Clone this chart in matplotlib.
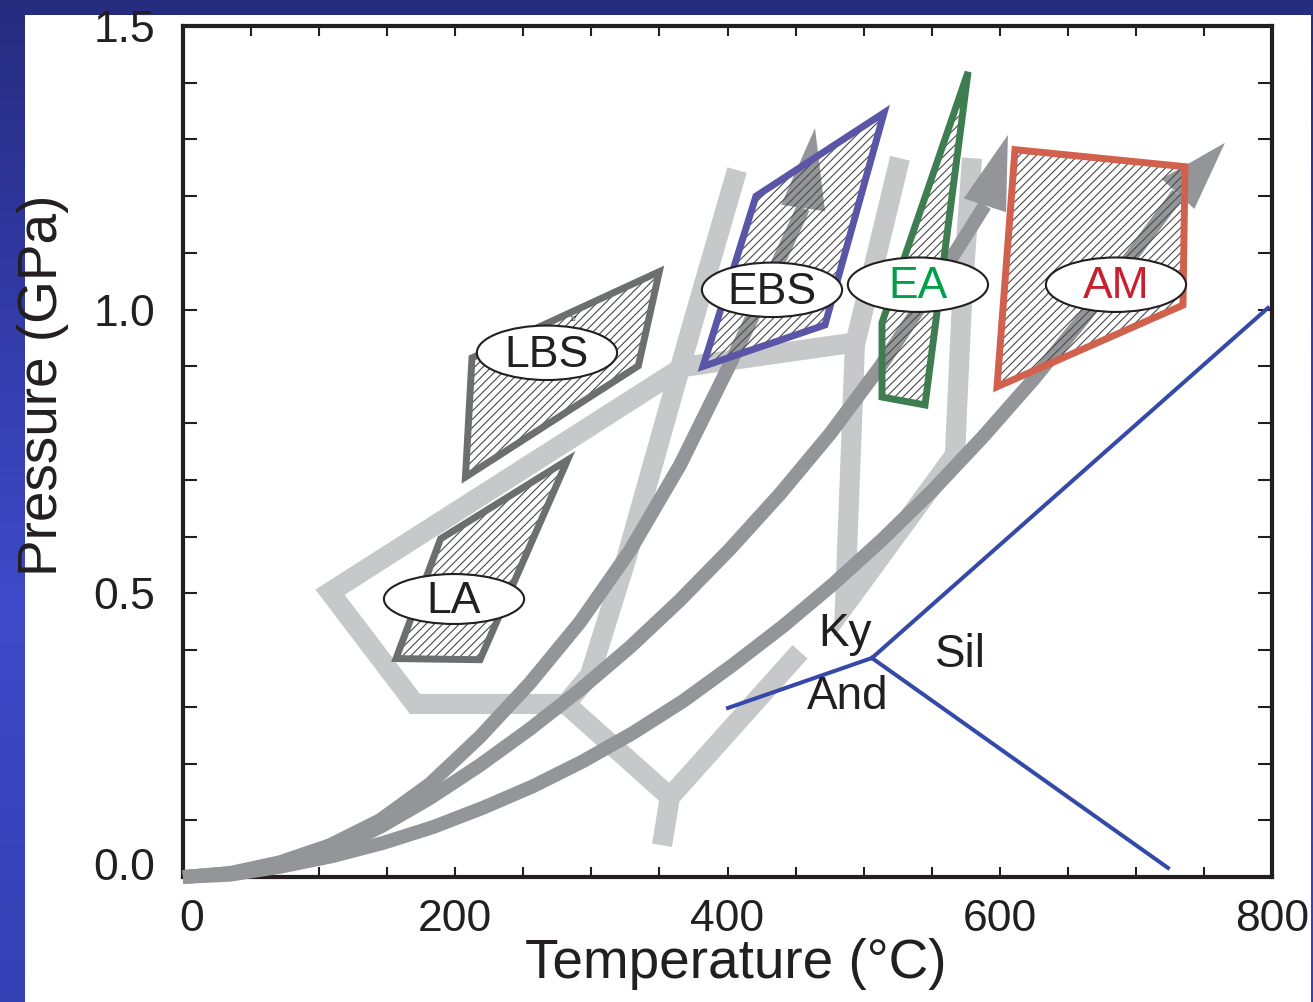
import numpy as np
import matplotlib.pyplot as plt
from matplotlib.patches import Polygon, Ellipse, Rectangle
from matplotlib.colors import LinearSegmentedColormap
from matplotlib.transforms import ScaledTranslation

plt.rcParams['font.family'] = ['Liberation Sans', 'DejaVu Sans']
plt.rcParams['hatch.linewidth'] = 0.8

# dark gray prograde P-T paths (temperature degC, pressure GPa) + arrow tips
curve1_t = [0, 34.5, 71.2, 107.9, 144.7, 181.4, 218.1, 254.9, 291.6, 328.3, 365.1, 401.8, 431.2, 451.0, 455.5]
curve1_p = [0, 0.007, 0.026, 0.056, 0.100, 0.164, 0.247, 0.342, 0.449, 0.575, 0.726, 0.904, 1.052, 1.155, 1.179]
curve2_t = [0, 34.5, 71.2, 107.9, 144.7, 181.4, 218.1, 254.9, 291.6, 328.3, 365.1, 401.8, 438.5,
            475.3, 512.0, 548.7, 574.4, 589.1]
curve2_p = [0, 0.004, 0.018, 0.046, 0.088, 0.139, 0.197, 0.261, 0.330, 0.405, 0.488, 0.578, 0.675,
            0.781, 0.899, 1.031, 1.128, 1.184]
curve3_t = [0, 36.7, 73.5, 110.2, 146.9, 183.7, 220.4, 257.1, 293.8, 330.6, 367.3, 404.0, 440.8,
            477.5, 514.2, 550.9, 587.7, 624.4, 661.1, 697.9, 730.9]
curve3_p = [0, 0.007, 0.019, 0.037, 0.060, 0.088, 0.122, 0.160, 0.204, 0.254, 0.310, 0.374, 0.442,
            0.516, 0.596, 0.682, 0.776, 0.876, 0.984, 1.098, 1.204]
tips_t = [464.3, 606.0, 765.4]
tips_p = [1.320, 1.308, 1.294]

# light gray exhumation paths
pathA_t = [407.0, 372.4, 325.4, 299.0, 281.3, 170.4, 108.0, 367.3, 490.0]
pathA_p = [1.246, 0.959, 0.559, 0.356, 0.305, 0.305, 0.502, 0.899, 0.941]
pathB_t = [526.7, 493.6, 486.3, 567.1, 572.3, 579.6]
pathB_p = [1.267, 0.938, 0.479, 0.744, 1.017, 1.267]
pathC_t = [281.3, 357.7, 351.9]
pathC_p = [0.305, 0.141, 0.056]
pathD_t = [357.7, 453.3]
pathD_p = [0.141, 0.397]

# metamorphic facies boxes
box_names = ['LA', 'LBS', 'EBS', 'EA', 'AM']
box_t = [[189.2, 282.5, 218.2, 156.5],
         [212.3, 349.9, 334.5, 207.5],
         [420.9, 515.0, 471.6, 382.0],
         [576.7, 545.1, 513.5, 513.5],
         [611.2, 736.1, 734.6, 598.0]]
box_p = [[0.596, 0.735, 0.383, 0.385],
         [0.915, 1.067, 0.901, 0.705],
         [1.200, 1.347, 0.973, 0.900],
         [1.419, 0.832, 0.846, 0.977],
         [1.282, 1.252, 1.008, 0.864]]
label_t = [199.1, 267.4, 432.7, 539.9, 685.4]
label_p = [0.490, 0.924, 1.035, 1.044, 1.044]

# Al2SiO5 phase diagram
ky_and_t = [400.4, 506.1]
ky_and_p = [0.298, 0.386]
ky_sil_t = [506.1, 797.0]
ky_sil_p = [0.386, 1.003]
and_sil_t = [506.1, 723.6]
and_sil_p = [0.386, 0.016]
mineral_names = ['Ky', 'And', 'Sil']
mineral_t = [486.3, 488.5, 570.8]
mineral_p = [0.428, 0.317, 0.391]

box_edge = ['#6d6e70', '#6d6e70', '#5a55a6', '#3d7d4f', '#d1604c']
label_col = ['#231f20', '#231f20', '#231f20', '#00a04b', '#c8202f']

W, H = 1313, 1002
fig = plt.figure(figsize=(W / 100, H / 100), dpi=100)

# blue slide background
bg = fig.add_axes([0, 0, 1, 1], zorder=-10)
bg.axis('off')
cmap = LinearSegmentedColormap.from_list(
    'slide', [(0, '#3440b4'), (0.4, '#3e4ac9'), (0.75, '#3038a0'), (1, '#262c7e')])
grad = np.linspace(0, 1, 256).reshape(-1, 1)
bg.imshow(grad, cmap=cmap, aspect='auto', extent=[0, 1, 0, 1], origin='lower')
bg.add_patch(Rectangle((25 / W, 0), (1311 - 25) / W, 987 / H, transform=bg.transAxes,
                       facecolor='white', edgecolor='none'))
bg.set_xlim(0, 1)
bg.set_ylim(0, 1)

ax = fig.add_axes([183 / W, 125 / H, 1089 / W, 851 / H])
ax.set_xlim(0, 800)
ax.set_ylim(0, 1.5)

light = '#c7c8ca'
dark = '#939598'
for t, p in [(pathA_t, pathA_p), (pathB_t, pathB_p), (pathC_t, pathC_p), (pathD_t, pathD_p)]:
    ax.plot(t, p, color=light, lw=14.5, solid_joinstyle='miter', solid_capstyle='butt', zorder=1)

curves = [(curve1_t, curve1_p), (curve2_t, curve2_p), (curve3_t, curve3_p)]
for (t, p), tt, tp in zip(curves, tips_t, tips_p):
    ax.plot(t, p, color=dark, lw=10, solid_capstyle='butt', solid_joinstyle='round',
            zorder=3, clip_on=False)
    a = ax.transData.transform((t[-1], p[-1]))
    b = ax.transData.transform((tt, tp))
    dist = np.hypot(*(b - a)) * 72 / fig.dpi
    ax.annotate('', xy=(tt, tp), xytext=(t[-1], p[-1]),
                arrowprops=dict(arrowstyle='-|>,head_length=%.1f,head_width=16' % dist,
                                mutation_scale=1, color=dark, lw=0,
                                shrinkA=0, shrinkB=0), zorder=3)

for i in range(len(box_names)):
    xy = np.column_stack([box_t[i], box_p[i]])
    ax.add_patch(Polygon(xy, closed=True, facecolor='none', edgecolor='#4a4a4a',
                         lw=0, hatch='////', zorder=4))
    ax.add_patch(Polygon(xy, closed=True, facecolor='none', edgecolor=box_edge[i],
                         lw=5, joinstyle='miter', zorder=5))

for i, name in enumerate(box_names):
    h = 0.088 if name == 'LA' else 0.096
    ax.add_patch(Ellipse((label_t[i], label_p[i]), 103, h, facecolor='white',
                         edgecolor='#231f20', lw=1.5, zorder=6))
    ax.text(label_t[i], label_p[i] - 0.004, name, color=label_col[i], fontsize=32,
            ha='center', va='center', zorder=7)
ax.text(286.5, 0.982, '17', fontsize=5, ha='center', va='center', color='#231f20', zorder=5)

blue = '#3449a8'
for t, p in [(ky_and_t, ky_and_p), (ky_sil_t, ky_sil_p), (and_sil_t, and_sil_p)]:
    ax.plot(t, p, color=blue, lw=2.9, zorder=2)
for name, t, p in zip(mineral_names, mineral_t, mineral_p):
    ax.text(t, p, name, fontsize=33, ha='center', va='center', color='#231f20', zorder=7)

ax.set_xticks([0, 200, 400, 600, 800])
ax.set_xticks(np.arange(0, 801, 50), minor=True)
ax.set_yticks([0, 0.5, 1.0, 1.5])
ax.set_yticklabels(['0.0', '0.5', '1.0', '1.5'])
ax.set_yticks(np.arange(0, 1.51, 0.1), minor=True)
ax.tick_params(axis='both', which='both', direction='in', top=True, right=True,
               width=1.5, color='#231f20', labelcolor='#231f20', labelsize=32)
ax.tick_params(axis='x', which='both', length=7, pad=16)
ax.tick_params(axis='y', which='both', length=10, pad=20)
for s in ax.spines.values():
    s.set_linewidth(3)
    s.set_color('#231f20')

# the corner labels sit slightly off their ticks in the original
lab = ax.yaxis.get_major_ticks()[0].label1
lab.set_transform(lab.get_transform() + ScaledTranslation(0, 0.13, fig.dpi_scale_trans))
lab = ax.xaxis.get_major_ticks()[0].label1
lab.set_transform(lab.get_transform() + ScaledTranslation(0.09, 0, fig.dpi_scale_trans))

ax.set_xlabel('Temperature (\u00b0C)', fontsize=39.5, color='#231f20')
ax.set_ylabel('Pressure (GPa)', fontsize=39.5, color='#231f20')
ax.xaxis.set_label_coords(0.508, -0.072)
ax.yaxis.set_label_coords(-0.105, 0.578)

fig.savefig('out.png', dpi=100)
